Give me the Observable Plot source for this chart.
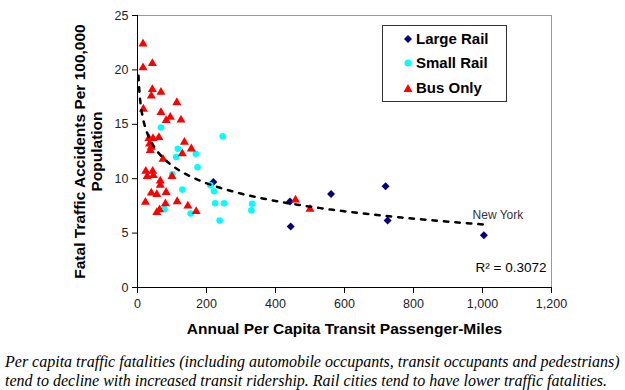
<!DOCTYPE html>
<html><head><meta charset="utf-8">
<script src="https://cdn.jsdelivr.net/npm/d3@7"></script>
<script src="https://cdn.jsdelivr.net/npm/@observablehq/plot@0.6"></script>
<style>
body{margin:0;background:#fff;font-family:"Liberation Sans",Arial,sans-serif;}
#wrap{position:relative;width:625px;height:390px;overflow:hidden;}
#legend{position:absolute;left:382px;top:25px;width:125px;height:77px;border:1px solid #333;background:#fff;box-sizing:border-box;}
.item{position:absolute;left:20px;height:20px;line-height:20px;font-weight:bold;font-size:15px;color:#000;white-space:nowrap;}
.item svg{vertical-align:middle;margin-right:3px;position:relative;top:-1px;}
#caption{position:absolute;left:5px;top:352px;font-family:"Liberation Serif","Times New Roman",serif;font-style:italic;font-size:16px;line-height:19px;white-space:nowrap;color:#000;}
</style></head>
<body><div id="wrap"><div id="chart"></div><div id="legend"></div><div id="caption"></div></div>
<script>
// ---- data ----
const seriesNames = ["Large Rail", "Small Rail", "Bus Only"];
const seriesColors = ["#000080", "#00FFFF", "#FF0000"];
const largeRail = [[220,9.7],[442,7.9],[444,5.6],[561,8.6],[719,9.3],[725,6.15],[1004,4.8]];
const smallRail = [[68,14.7],[117,12.75],[112,12.0],[169,12.3],[174,11.05],[101,10.4],[130,9.0],[78,7.2],[154,6.8],[247,13.9],[211,9.4],[222,8.85],[225,7.75],[251,7.75],[332,7.7],[330,7.1],[238,6.15]];
const busOnly = [[16,22.4],[16,20.2],[43,20.6],[43,18.2],[68,17.95],[40,17.6],[114,17.0],[17,16.4],[68,16.1],[95,15.65],[83,15.35],[126,15.4],[33,13.7],[45,13.7],[62,13.8],[35,13.2],[40,12.9],[37,12.6],[136,13.35],[156,12.75],[130,12.3],[74,11.8],[24,10.7],[44,10.7],[28,10.2],[46,10.3],[100,10.2],[66,9.8],[66,9.4],[83,8.75],[40,8.7],[56,8.55],[23,7.85],[81,7.7],[115,7.9],[146,7.5],[64,7.15],[56,6.9],[170,7.0],[458,8.05],[500,7.2]];
const xTicks = [0,200,400,600,800,1000,1200];
const yTicks = [0,5,10,15,20,25];
const trendStartX = 3;
const labelCity = "New York";
const r2Text = "R\u00B2 = 0.3072";
const xTitle = "Annual Per Capita Transit Passenger-Miles";
const yTitle = "Fatal Traffic Accidents Per 100,000\nPopulation";
const captionLines = [
  "Per capita traffic fatalities (including automobile occupants, transit occupants and pedestrians)",
  "tend to decline with increased transit ridership. Rail cities tend to have lower traffic fatalities."
];

// ---- derived ----
const toRows = (arr, s) => arr.map(([x, y]) => ({x, y, s}));
const rowsL = toRows(largeRail, seriesNames[0]);
const rowsS = toRows(smallRail, seriesNames[1]);
const rowsB = toRows(busOnly, seriesNames[2]);
const all = [...rowsL, ...rowsS, ...rowsB];
// logarithmic least-squares trend fitted to the data
const lx = all.map(d => Math.log(d.x)), ly = all.map(d => d.y);
const mx = d3.mean(lx), my = d3.mean(ly);
const b = d3.sum(lx, (v, i) => (v - mx) * (ly[i] - my)) / d3.sum(lx, v => (v - mx) ** 2);
const a = my - b * mx;
const xMax = d3.max(all, d => d.x);
const trend = d3.range(0, 301).map(i => {
  const x = trendStartX * Math.pow(xMax / trendStartX, i / 300);
  return {x, y: a + b * Math.log(x)};
});
const nyPoint = rowsL.reduce((m, d) => d.x > m.x ? d : m);

const chart = Plot.plot({
  width: 625, height: 345,
  marginLeft: 137, marginRight: 74, marginTop: 15, marginBottom: 58,
  style: {fontFamily: "'Liberation Sans', Arial, sans-serif", fontSize: "12.5px", color: "#000", background: "#fff"},
  x: {domain: [0, 1200], label: null},
  y: {domain: [0, 25], label: null},
  marks: [
    Plot.frame({stroke: "#999"}),
    Plot.axisX({ticks: xTicks, tickFormat: d3.format(","), tickSize: 6, tickPadding: 6, label: null, fill: "#222"}),
    Plot.axisY({ticks: yTicks, tickSize: 5, tickPadding: 4, label: null, fill: "#222"}),
    Plot.ruleX([0], {stroke: "#000"}),
    Plot.ruleY([0], {stroke: "#000"}),
    Plot.dot(rowsL, {x: "x", y: "y", symbol: "diamond2", r: 3.6, fill: seriesColors[0], stroke: "none"}),
    Plot.dot(rowsS, {x: "x", y: "y", symbol: "circle", r: 3.3, fill: seriesColors[1], stroke: "none"}),
    Plot.dot(rowsB, {x: "x", y: "y", symbol: "triangle2", r: 4.3, fill: seriesColors[2], stroke: "none"}),
    Plot.line(trend, {x: "x", y: "y", stroke: "#000", strokeWidth: 2.5, strokeDasharray: "4.5,7"}),
    Plot.text([nyPoint], {x: "x", y: "y", text: () => labelCity, dx: 14, dy: -20, fontSize: 12, fill: "#333"}),
    Plot.text([r2Text], {text: d => d, frameAnchor: "bottom-right", dx: -5, dy: -16, fontSize: 13.5, fill: "#000"}),
    Plot.text([xTitle], {text: d => d, frameAnchor: "bottom", dy: 46, fontSize: 15.5, fontWeight: "bold", fill: "#000"}),
    Plot.text([yTitle], {text: d => d, frameAnchor: "left", textAnchor: "middle", dx: -49, rotate: -90, fontSize: 15.5, fontWeight: "bold", lineHeight: 1.1, fill: "#000"})
  ]
});
document.getElementById("chart").appendChild(chart);

// legend
const shapes = [
  c => `<svg width="10" height="10"><path d="M5 1L9 5L5 9L1 5Z" fill="${c}"/></svg>`,
  c => `<svg width="10" height="10"><circle cx="5" cy="5" r="3.5" fill="${c}"/></svg>`,
  c => `<svg width="10" height="10"><path d="M5 1L9.5 9H0.5Z" fill="${c}"/></svg>`
];
const rowTops = [3, 27, 52];
document.getElementById("legend").innerHTML = seriesNames.map((n, i) =>
  `<div class="item" style="top:${rowTops[i]}px">${shapes[i](seriesColors[i])}${n}</div>`).join("");
document.getElementById("caption").innerHTML = captionLines.map(l => `<div>${l}</div>`).join("");
</script></body></html>
